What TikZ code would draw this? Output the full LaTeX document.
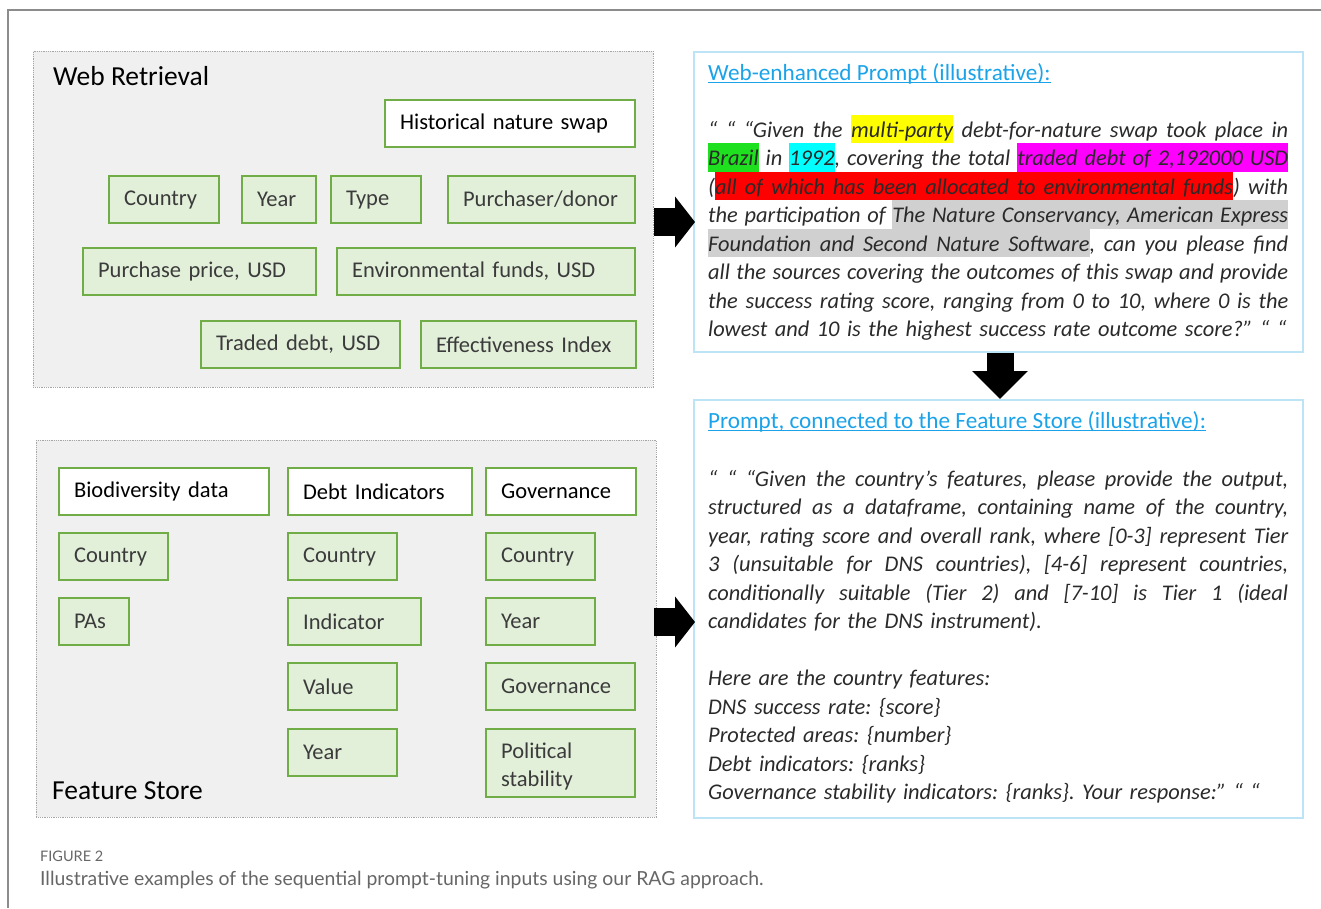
\documentclass[tikz,border=0pt]{standalone}
\usepackage{fontspec}
\setmainfont{Carlito}
\newfontfamily\capfont{Lato}
\usetikzlibrary{arrows.meta, positioning}

\definecolor{fgreen}{HTML}{70AD47}
\definecolor{fgreenbg}{HTML}{E2EFD9}
\definecolor{panelbg}{HTML}{F0F0F0}
\definecolor{panelline}{HTML}{A6A6A6}
\definecolor{promptline}{HTML}{BDE3F6}
\definecolor{titleblue}{HTML}{1AA3E8}
\definecolor{labelgray}{HTML}{3B3B3B}
\definecolor{bodygray}{HTML}{2A2A2A}
\definecolor{framegray}{HTML}{8C8C8C}
\definecolor{capgray}{HTML}{666666}
\definecolor{hlyellow}{HTML}{FFFF00}
\definecolor{hlgreen}{HTML}{1EE01E}
\definecolor{hlcyan}{HTML}{00FFFF}
\definecolor{hlmagenta}{HTML}{FF00FF}
\definecolor{hlred}{HTML}{FF0000}
\definecolor{hlgray}{HTML}{D0D0D0}

% marker pen highlights that stretch with justified lines
\newcommand\hlstrut{\rule[-6pt]{0pt}{28.5pt}}
\newcommand\hlbox[2]{{\fboxsep=0pt\colorbox{#1}{\hlstrut#2}}}
\newcommand\hlsp[1]{{\color{#1}\leaders\hrule height 22.5pt depth 6pt\hskip\fontdimen2\font plus\fontdimen3\font minus\fontdimen4\font}}
\makeatletter
\def\hlw#1#2{\def\hl@c{#1}\hl@a#2 \@nil}
\def\hl@a#1 #2\@nil{\hlbox{\hl@c}{#1}\ifx\relax#2\relax\else\hlsp{\hl@c}\hl@a#2\@nil\fi}
\makeatother
\newcommand\jl[1]{\makebox[580pt][s]{\spaceskip=0pt\xspaceskip=0pt\hlstrut#1}}

\tikzset{
  panel/.style={draw=panelline, densely dotted, line width=0.8pt, fill=panelbg, anchor=north west, inner sep=0pt},
  field/.style={draw=fgreen, line width=2.2pt, fill=fgreenbg, anchor=north west, inner xsep=15pt, inner ysep=0pt,
    minimum height=47pt, text width=#1, align=left, text=labelgray, font=\fontsize{22.5}{28}\selectfont},
  header/.style={field=#1, fill=white, text=black},
  panellabel/.style={anchor=base west, inner sep=0pt, font=\fontsize{27.5}{30}\selectfont},
  promptbox/.style={draw=promptline, line width=1.8pt, anchor=north west, inner sep=0pt},
  prompttitle/.style={anchor=base west, inner sep=0pt, text=titleblue, font=\fontsize{23.2}{26}\selectfont},
  promptbody/.style={anchor=north west, inner sep=0pt, text width=580pt, align=left, text=bodygray,
    font=\fontsize{22.4}{28.5}\selectfont\itshape\frenchspacing},
  bigarrow/.style={line width=28pt, -{Triangle[length=20pt,width=50pt]}},
}

\begin{document}
\begin{tikzpicture}[x=1pt, y=-1pt]
\useasboundingbox (0,0) rectangle (1321,908);

\draw[framegray, line width=2pt] (8,908) -- (8,10) -- (1321,10);

\node[panel, minimum width=620pt, minimum height=336pt] (wpanel) at (33,51) {};
\node[panellabel] (wlabel) at (53,85) {Web Retrieval};
\node[header=220] (wswap) at (384,99) {Historical nature swap};
\node[field=80] (wcountry) at (108,175) {Country};
\node[field=44] (wyear) at (241,175) {Year};
\node[field=60] (wtype) at (330,175) {Type};
\node[field=157] (wbuyer) at (447,175) {Purchaser/donor};
\node[field=203] (wprice) at (82,247) {Purchase price, USD};
\node[field=268] (wfunds) at (336,247) {Environmental funds, USD};
\node[field=169] (wdebt) at (200,320) {Traded debt, USD};
\node[field=185] (windex) at (420,320) {Effectiveness Index};

\node[panel, minimum width=620pt, minimum height=377pt] (fpanel) at (36,440) {};
\node[panellabel] (flabel) at (52,799) {Feature Store};
\node[header=180] (fbio) at (58,467) {Biodiversity data};
\node[header=154] (fdebt) at (287,467) {Debt Indicators};
\node[header=120] (fgov) at (485,467) {Governance};
\node[field=79] (fbcountry) at (58,532) {Country};
\node[field=40] (fbpas) at (58,597) {PAs};
\node[field=79] (fdcountry) at (287,532) {Country};
\node[field=103] (fdind) at (287,597) {Indicator};
\node[field=79] (fdvalue) at (287,662) {Value};
\node[field=79] (fdyear) at (287,728) {Year};
\node[field=79] (fgcountry) at (485,532) {Country};
\node[field=79] (fgyear) at (485,597) {Year};
\node[field=119] (fggov) at (485,662) {Governance};
\node[field=119, minimum height=68pt, text height=16.5pt, text depth=25.5pt] (fgpol) at (485,728) {Political\\stability};

\node[promptbox, minimum width=609pt, minimum height=300pt] (wprompt) at (693,51) {};
\node[promptbox, minimum width=609pt, minimum height=418pt] (fprompt) at (693,399) {};

\coordinate (arrw) at (0,222);
\coordinate (arrf) at (0,622);
\coordinate (arrd) at (1000,0);
\draw[bigarrow] (wpanel.east |- arrw) -- ([xshift=2pt]wprompt.west |- arrw);
\draw[bigarrow] ([xshift=-3pt]fpanel.east |- arrf) -- ([xshift=2pt]fprompt.west |- arrf);
\draw[line width=27pt, -{Triangle[length=28pt,width=54pt]}] (wprompt.south -| arrd) -- (fprompt.north -| arrd);

\node[prompttitle] (wtitle) at (708,80) {Web-enhanced Prompt (illustrative):};
\draw[titleblue, line width=1.2pt] ([yshift=-2.5pt]wtitle.base west) -- ([yshift=-2.5pt]wtitle.base east);
\node[promptbody] (wbody) at (708,114.5) {%
\jl{“ “ “Given the \hlw{hlyellow}{multi-party} debt-for-nature swap took place in}\\
\jl{\hlw{hlgreen}{Brazil} in \hlw{hlcyan}{1992}, covering the total \hlw{hlmagenta}{traded debt of 2,192000 USD}}\\
\jl{(\hlw{hlred}{all of which has been allocated to environmental funds}) with}\\
\jl{the participation of \hlw{hlgray}{The Nature Conservancy, American Express}}\\
\jl{\hlw{hlgray}{Foundation and Second Nature Software}, can you please find}\\
\jl{all the sources covering the outcomes of this swap and provide}\\
\jl{the success rating score, ranging from 0 to 10, where 0 is the}\\
\hlstrut lowest and 10 is the highest success rate outcome score?” “ “};

\node[prompttitle] (ftitle) at (708,428) {Prompt, connected to the Feature Store (illustrative):};
\draw[titleblue, line width=1.2pt] ([yshift=-2.5pt]ftitle.base west) -- ([yshift=-2.5pt]ftitle.base east);
\node[promptbody] (fbody) at (708,463.5) {%
\jl{“ “ “Given the country’s features, please provide the output,}\\
\jl{structured as a dataframe, containing name of the country,}\\
\jl{year, rating score and overall rank, where [0-3] represent Tier}\\
\jl{3 (unsuitable for DNS countries), [4-6] represent countries,}\\
\jl{conditionally suitable (Tier 2) and [7-10] is Tier 1 (ideal}\\
\hlstrut candidates for the DNS instrument).\\
\hlstrut\\
\hlstrut Here are the country features:\\
\hlstrut DNS success rate: \{score\}\\
\hlstrut Protected areas: \{number\}\\
\hlstrut Debt indicators: \{ranks\}\\
\hlstrut Governance stability indicators: \{ranks\}. Your response:” “ “};

\node[anchor=base west, inner sep=0pt, text=capgray, font=\capfont\fontsize{14.5}{16}\selectfont] (figno) at (40,861) {FIGURE 2};
\node[anchor=base west, inner sep=0pt, text=capgray, font=\capfont\fontsize{19.4}{22}\selectfont] (figcap) at (40,885) {Illustrative examples of the sequential prompt-tuning inputs using our RAG approach.};
\end{tikzpicture}
\end{document}
